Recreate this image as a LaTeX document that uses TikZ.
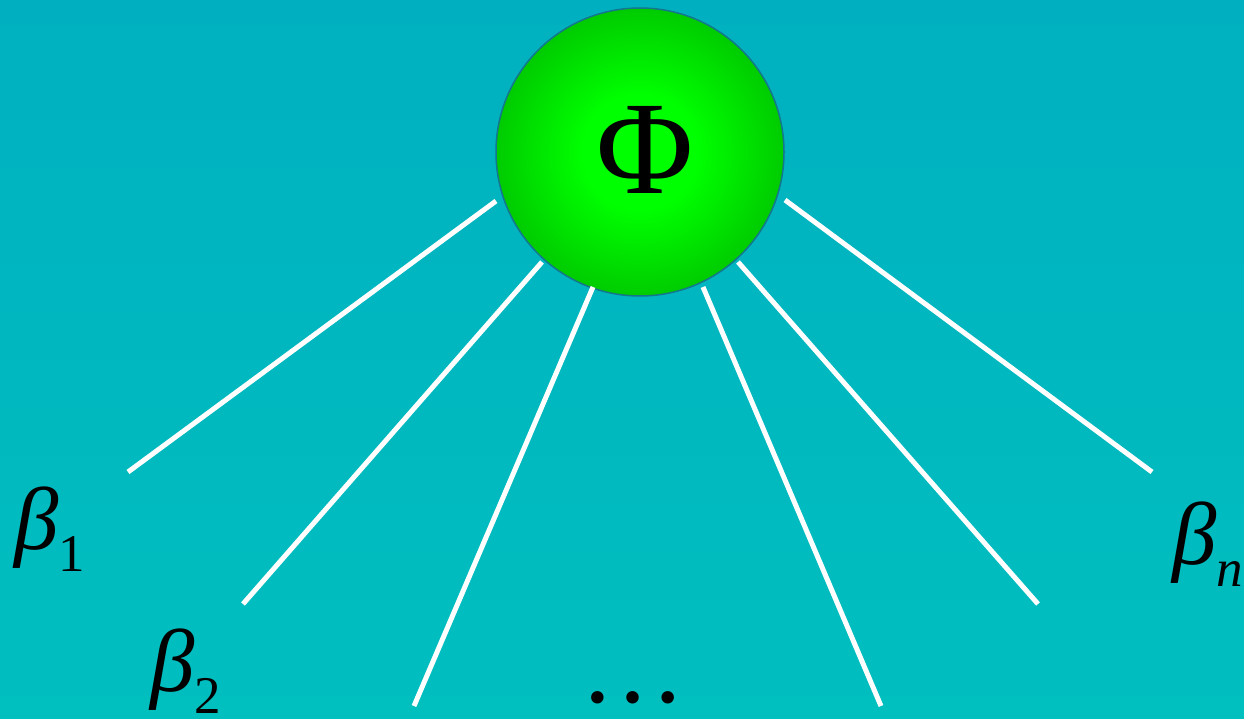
\documentclass[tikz,border=0pt]{standalone}
\usepackage{fontspec}
\setmainfont{Liberation Serif}

\definecolor{bgtop}{RGB}{0,176,192}
\definecolor{bgbot}{RGB}{0,191,191}
\definecolor{ballin}{RGB}{0,255,0}
\definecolor{ballout}{RGB}{0,118,0}
\definecolor{ballrim}{RGB}{20,120,140}
\pgfdeclareradialshading{ballshade}{\pgfpoint{0bp}{0bp}}{color(0bp)=(ballin); color(10bp)=(ballin); color(50bp)=(ballout)}

\tikzset{
	ball/.style={circle, minimum size=288pt, inner sep=0pt, shade, shading=ballshade, draw=ballrim, line width=1.5pt},
	leg/.style={white, line width=5pt},
	lbl/.style={anchor=base west, inner sep=0pt, font=\fontsize{89}{89}\selectfont\itshape},
	sub/.style={font=\fontsize{53}{53}\selectfont},
}
\newcommand{\lowsub}[1]{\raisebox{-22pt}{\fontsize{53}{53}\selectfont #1}}

\begin{document}
\begin{tikzpicture}[x=1pt, y=-1pt]
		\shade[top color=bgtop, bottom color=bgbot] (0,0) rectangle (1244,719);
		\useasboundingbox (0,0) rectangle (1244,719);

		\node[ball] (ball) at (640,152) {};
		\node[anchor=base, inner sep=0pt, font=\fontsize{133}{133}\selectfont] (phi) at (645,194) {Φ};

		\coordinate (S1) at (496,201);
		\coordinate (S2) at (542,262);
		\coordinate (S3) at (593,287);
		\coordinate (S4) at (703,287);
		\coordinate (S5) at (738,262);
		\coordinate (S6) at (785,200);
		\coordinate (E1) at (128,472);
		\coordinate (E2) at (243,604);
		\coordinate (E3) at (414,706);
		\coordinate (E4) at (881,706);
		\coordinate (E5) at (1038,604);
		\coordinate (E6) at (1152,472);

		\foreach \i in {1,...,6}
			\draw[leg] (S\i) -- (E\i);

		\node[lbl] (beta1) at (14,549) {β\lowsub{\upshape 1}};
		\node[lbl] (beta2) at (150,691) {β\lowsub{\upshape 2}};
		\node[lbl] (betan) at (1172,564) {β\lowsub{n}};
		\node[anchor=base, inner sep=0pt, font=\fontsize{105}{105}\selectfont] (dots) at (633,702) {…};
	\end{tikzpicture}
\end{document}
